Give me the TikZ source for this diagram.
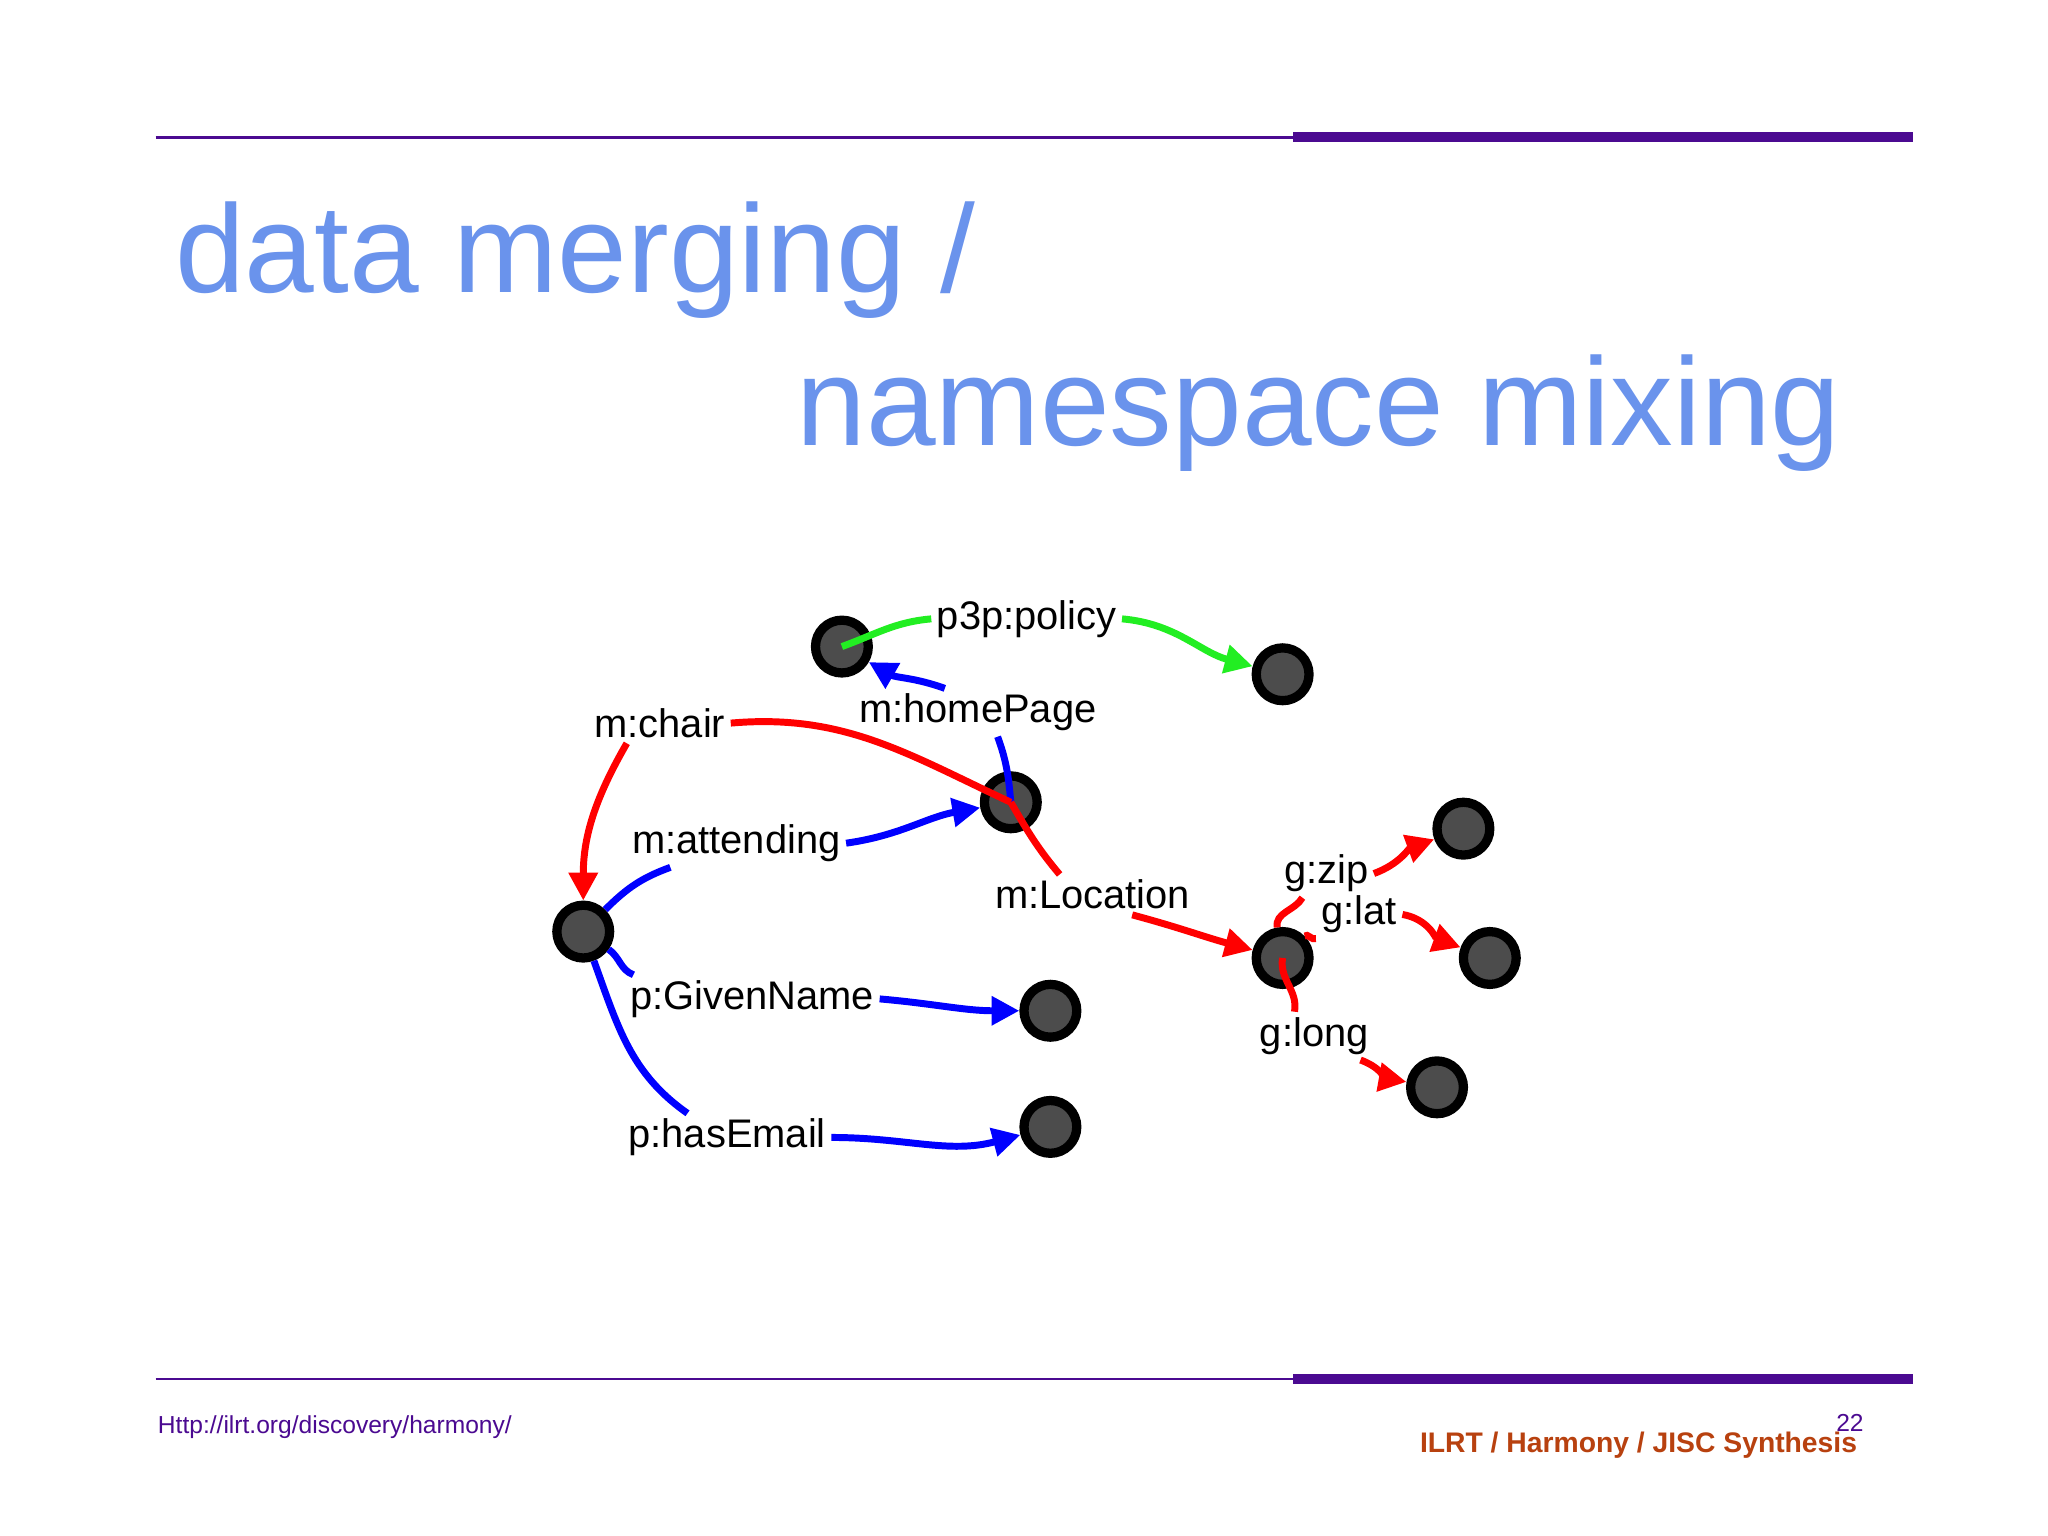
\documentclass[tikz,border=0pt]{standalone}
\usepackage{fontspec}
\setmainfont{Liberation Sans}
\usetikzlibrary{arrows.meta}
\definecolor{ttl}{HTML}{6A93EC}
\definecolor{pur}{HTML}{4B0A91}
\definecolor{foot}{HTML}{B8410F}
\definecolor{gr}{HTML}{22EE22}
\tikzset{
 vtx/.style={circle,draw=black,fill=black!70,line width=2pt,minimum size=0.4cm,inner sep=0pt},
 lbl/.style={font=\fontsize{8.6pt}{9pt}\selectfont,inner sep=1pt},
 edge/.style={line width=1.5pt},
 arr/.style={edge,-{Triangle[length=6pt,width=6pt]}}
}
\begin{document}
\begin{tikzpicture}
\useasboundingbox (0,0) rectangle (15.52,11.64);
\fill[white] (0,0) rectangle (15.52,11.64);
% rules
\draw[pur,line width=0.6pt] (1.18,10.6) -- (9.8,10.6);
\fill[pur] (9.8,10.56) rectangle (14.5,10.64);
\draw[pur,line width=0.6pt] (1.18,1.19) -- (9.8,1.19);
\fill[pur] (9.8,1.15) rectangle (14.5,1.23);
% title
\node[anchor=base west,inner sep=0,text=ttl,font=\fontsize{27pt}{29pt}\selectfont] (t1) at (1.32,9.42) {data merging /};
\node[anchor=base west,inner sep=0,text=ttl,font=\fontsize{27pt}{29pt}\selectfont] (t2) at (6.03,8.26) {namespace mixing};
% footer
\node[anchor=base west,inner sep=0,text=pur,font=\fontsize{5.3pt}{6pt}\selectfont] (url) at (1.19,0.78) {Http://ilrt.org/discovery/harmony/};
\node[anchor=base east,inner sep=0,text=foot,font=\bfseries\fontsize{6.1pt}{7pt}\selectfont] (ft) at (14.08,0.63) {ILRT / Harmony / JISC Synthesis};
\node[anchor=base east,inner sep=0,text=pur,font=\fontsize{5.3pt}{6pt}\selectfont] (pg) at (14.13,0.79) {22};
% nodes
\node[vtx] (n1) at (6.38,6.74) {};
\node[vtx] (n2) at (9.72,6.53) {};
\node[vtx] (n3) at (7.66,5.56) {};
\node[vtx] (n4) at (4.42,4.58) {};
\node[vtx] (n5) at (7.96,3.98) {};
\node[vtx] (n6) at (7.96,3.10) {};
\node[vtx] (n7) at (9.72,4.38) {};
\node[vtx] (n8) at (11.09,5.36) {};
\node[vtx] (n9) at (11.29,4.38) {};
\node[vtx] (n10) at (10.89,3.40) {};
% labels
\node[lbl] (lp) at (7.78,6.95) {p3p:policy};
\node[lbl] (lh) at (7.41,6.24) {m:homePage};
\node[lbl] (lc) at (5.00,6.16) {m:chair};
\node[lbl] (la) at (5.58,5.25) {m:attending};
\node[lbl] (ll) at (8.28,4.86) {m:Location};
\node[lbl] (lg) at (5.70,4.07) {p:GivenName};
\node[lbl] (le) at (5.51,3.02) {p:hasEmail};
\node[lbl] (lz) at (10.05,5.02) {g:zip};
\node[lbl] (lt) at (10.30,4.71) {g:lat};
\node[lbl] (lo) at (9.96,3.79) {g:long};
% edges
\draw[edge,gr] (n1.center) to[out=20,in=185] (lp.west);
\draw[arr,gr] (lp.east) to[out=-5,in=165] (n2);
\draw[edge,blue] (n3.center) to[out=95,in=-70] ([xshift=0.15cm]lh.south);
\draw[arr,blue] ([xshift=-0.25cm]lh.north) to[out=160,in=-30] (n1);
\draw[edge,red] (n3.center) to[out=155,in=5] (lc.east);
\draw[arr,red] ([xshift=-0.25cm]lc.south) to[out=-120,in=90] (n4);
\draw[edge,red] (n3.center) to[out=-60,in=130] ([xshift=-0.25cm]ll.north);
\draw[arr,red] ([xshift=0.3cm]ll.south) to[out=-15,in=165] (n7);
\draw[edge,blue] (n4) to[out=45,in=200] ([xshift=-0.5cm]la.south);
\draw[arr,blue] (la.east) to[out=8,in=190] (n3);
\draw[edge,blue] (n4) to[out=-35,in=160] ([xshift=-0.9cm]lg.north);
\draw[arr,blue] (lg.east) to[out=-5,in=180] (n5);
\draw[edge,blue] (n4) to[out=-70,in=145] ([xshift=-0.3cm]le.north);
\draw[arr,blue] (le.east) to[out=0,in=195] (n6);
\draw[edge,red] (n7) to[out=100,in=-120] ([xshift=-0.18cm]lz.south);
\draw[arr,red] (lz.east) to[out=20,in=200] (n8);
\draw[edge,red] (n7) to[out=45,in=-150] (lt.south west);
\draw[arr,red] (lt.east) to[out=-10,in=160] (n9);
\draw[edge,red] (n7.center) to[out=-100,in=80] ([xshift=-0.15cm]lo.north);
\draw[arr,red] ([xshift=0.35cm]lo.south) to[out=-20,in=170] (n10);
\end{tikzpicture}
\end{document}
